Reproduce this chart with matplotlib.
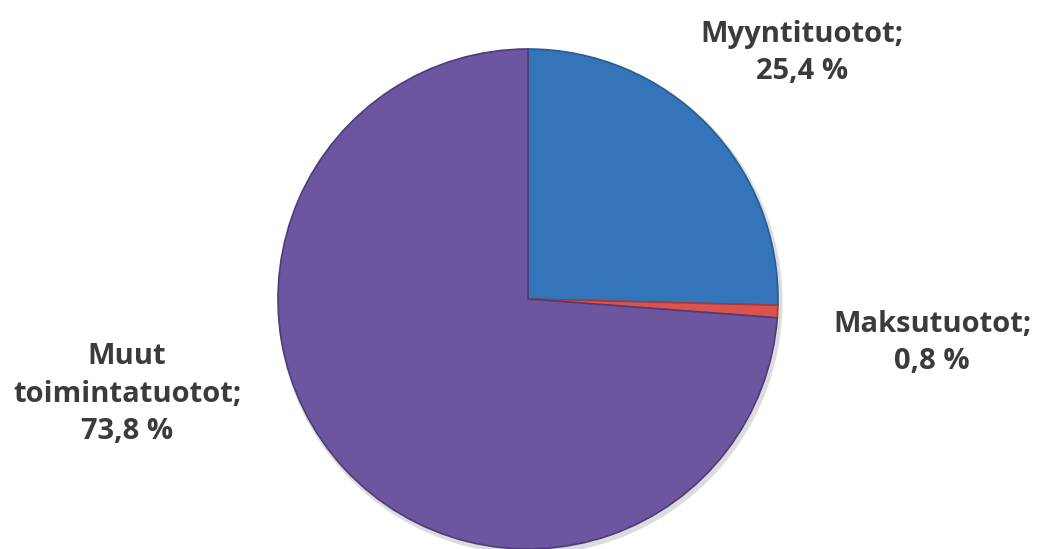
import matplotlib.pyplot as plt

categories = ['Myyntituotot', 'Maksutuotot', 'Muut\ntoimintatuotot']
values = [25.4, 0.8, 73.8]
value_labels = ['25,4 %', '0,8 %', '73,8 %']
colors = ['#3474b9', '#d9544f', '#6d56a0']
edges = ['#285c94', '#a83a36', '#4d3c7a']

W, H = 1038, 549
fig = plt.figure(figsize=(W / 100, H / 100), dpi=100)
ax = fig.add_axes([0, 0, 1, 1])
ax.axis('off')

# soft shadow
ax.pie([1], radius=1.01, center=(0.008, -0.012), colors=['#dcdcdc'],
       wedgeprops=dict(linewidth=0))
wedges, _ = ax.pie(values, startangle=90, counterclock=False, colors=colors,
                   wedgeprops=dict(linewidth=1.2))
for w, ec in zip(wedges, edges):
    w.set_edgecolor(ec)
ax.set_xlim(-1.05, 1.05)
ax.set_ylim(-1.05, 1.05)
# pie centre (528, 299) px from top, radius 250 px
ax.set_position([(528 - 262.5) / W, (549 - 299 - 262.5) / H, 525 / W, 525 / H])

font = dict(family=['Open Sans', 'DejaVu Sans'], fontweight='bold',
            fontsize=21, color='#3b3b3b', ha='center', va='center',
            linespacing=1.4)
pos = [(802, 53), (932, 343), (127, 394)]
for (x, y), name, lab in zip(pos, categories, value_labels):
    fig.text(x / W, 1 - y / H, name + ';\n' + lab, **font)

fig.savefig('out.png', dpi=100, facecolor='white')
